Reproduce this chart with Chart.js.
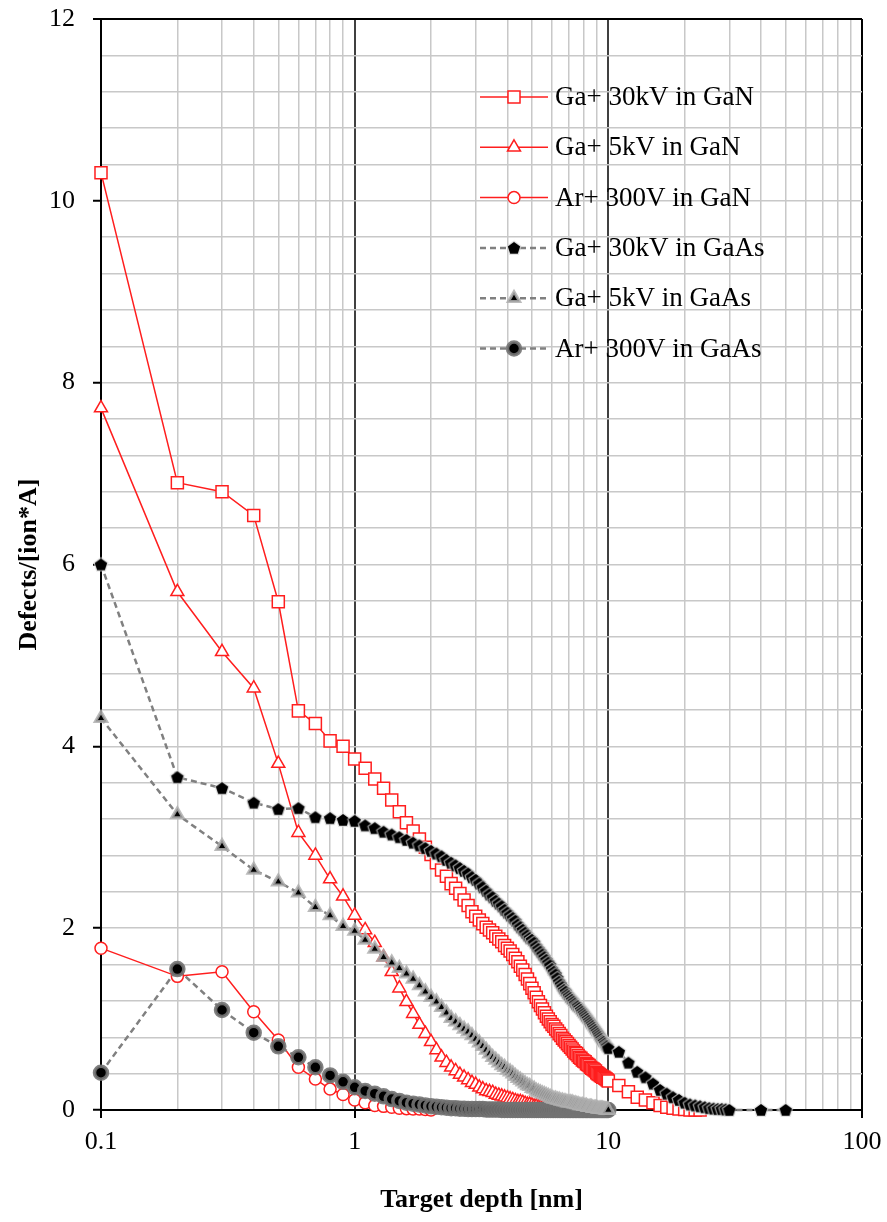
<!DOCTYPE html>
<html><head><meta charset="utf-8">
<script src="https://cdn.jsdelivr.net/npm/chart.js@4.4.1/dist/chart.umd.min.js"></script>
<style>html,body{margin:0;padding:0;background:#fff;}#wrap{width:887px;height:1222px;}</style>
</head><body><div id="wrap"><canvas id="c" width="887" height="1222"></canvas></div>
<script>
// ---- data ----
const depthFine = [0.1,0.2,0.3,0.4,0.5,0.6,0.7,0.8,0.9,1.0,
1.1,1.2,1.3,1.4,1.5,1.6,1.7,1.8,1.9,2.0,
2.1,2.2,2.3,2.4,2.5,2.6,2.7,2.8,2.9,3.0,
3.1,3.2,3.3,3.4,3.5,3.6,3.7,3.8,3.9,4.0,
4.1,4.2,4.3,4.4,4.5,4.6,4.7,4.8,4.9,5.0,
5.1,5.2,5.3,5.4,5.5,5.6,5.7,5.8,5.9,6.0,
6.1,6.2,6.3,6.4,6.5,6.6,6.7,6.8,6.9,7.0,
7.1,7.2,7.3,7.4,7.5,7.6,7.7,7.8,7.9,8.0,
8.1,8.2,8.3,8.4,8.5,8.6,8.7,8.8,8.9,9.0,
9.1,9.2,9.3,9.4,9.5,9.6,9.7,9.8,9.9,10.0];
const depthCoarse = [11,12,13,14,15,16,17,18,19,20,21,22,23,24,25,26,27,28,29,30,40,50];

const xTickValues = [0.1,0.2,0.3,0.4,0.5,0.6,0.7,0.8,0.9,1,2,3,4,5,6,7,8,9,10,20,30,40,50,60,70,80,90,100];
const xMajorValues = [0.1,1,10,100];
const xMajorLabels = ['0.1','1','10','100'];
const yLabelValues = [0,2,4,6,8,10,12];

const seriesNames = ['Ga+ 30kV in GaN','Ga+ 5kV in GaN','Ar+ 300V in GaN',
  'Ga+ 30kV in GaAs','Ga+ 5kV in GaAs','Ar+ 300V in GaAs'];

const ga30GaN = [10.31,6.90,6.80,6.54,5.59,4.39,4.25,4.06,4.00,3.86,
3.76,3.64,3.54,3.41,3.28,3.16,3.07,2.98,2.89,2.81,
2.72,2.64,2.57,2.49,2.44,2.38,2.31,2.25,2.18,2.13,
2.09,2.05,2.01,1.98,1.95,1.91,1.88,1.85,1.81,1.78,
1.75,1.71,1.67,1.63,1.58,1.54,1.49,1.44,1.39,1.34,
1.29,1.24,1.19,1.15,1.11,1.07,1.03,1.00,0.97,0.94,
0.92,0.89,0.87,0.84,0.82,0.79,0.77,0.75,0.73,0.71,
0.69,0.67,0.65,0.63,0.62,0.60,0.58,0.57,0.55,0.54,
0.53,0.51,0.50,0.49,0.47,0.46,0.45,0.44,0.43,0.41,
0.40,0.39,0.38,0.37,0.36,0.36,0.35,0.34,0.33,0.32,
0.27,0.20,0.14,0.11,0.08,0.05,0.03,0.02,0.01,0.005,0,0,0];

const ga5GaN = [7.72,5.70,5.04,4.64,3.81,3.05,2.80,2.54,2.35,2.14,
1.98,1.84,1.68,1.52,1.34,1.19,1.06,0.94,0.84,0.75,
0.66,0.58,0.52,0.47,0.43,0.39,0.36,0.33,0.30,0.28,
0.25,0.23,0.21,0.20,0.19,0.17,0.16,0.15,0.14,0.13,
0.12,0.11,0.10,0.09,0.09,0.08,0.07,0.06,0.06,0.05,
0.04,0.04,0.03,0.03,0.02,0.02,0.01,0.01,0.01,0];

const ar300GaN = [1.78,1.47,1.52,1.08,0.77,0.47,0.34,0.23,0.17,0.11,
0.08,0.05,0.04,0.03,0.02,0.015,0.01,0.01,0.005,0];

const ga30GaAs = [6.00,3.66,3.54,3.38,3.31,3.32,3.22,3.21,3.19,3.18,
3.13,3.10,3.06,3.03,3.00,2.97,2.94,2.91,2.88,2.85,
2.82,2.79,2.75,2.72,2.69,2.66,2.63,2.60,2.56,2.53,
2.49,2.45,2.41,2.37,2.34,2.30,2.27,2.24,2.20,2.17,
2.14,2.11,2.08,2.04,2.01,1.98,1.95,1.92,1.89,1.87,
1.84,1.80,1.77,1.74,1.71,1.68,1.65,1.62,1.59,1.55,
1.52,1.49,1.45,1.41,1.38,1.35,1.32,1.30,1.27,1.25,
1.23,1.21,1.19,1.17,1.15,1.14,1.12,1.10,1.08,1.06,
1.04,1.02,1.00,0.98,0.96,0.94,0.92,0.90,0.88,0.86,
0.84,0.82,0.80,0.78,0.76,0.75,0.73,0.71,0.70,0.68,
0.64,0.52,0.42,0.36,0.29,0.22,0.18,0.14,0.11,0.08,
0.06,0.05,0.04,0.03,0.02,0.015,0.01,0.01,0.005,0,0,0];

const ga5GaAs = [4.31,3.25,2.90,2.64,2.51,2.39,2.23,2.14,2.02,1.97,
1.87,1.77,1.68,1.62,1.56,1.50,1.44,1.37,1.30,1.24,
1.19,1.13,1.07,1.01,0.97,0.93,0.89,0.86,0.82,0.78,
0.74,0.70,0.66,0.62,0.58,0.55,0.52,0.49,0.47,0.44,
0.42,0.40,0.37,0.35,0.33,0.31,0.29,0.27,0.26,0.24,
0.23,0.21,0.20,0.19,0.18,0.17,0.16,0.15,0.14,0.13,
0.12,0.12,0.11,0.11,0.10,0.10,0.09,0.09,0.08,0.08,
0.08,0.08,0.07,0.07,0.06,0.06,0.05,0.05,0.05,0.04,
0.04,0.04,0.03,0.03,0.03,0.03,0.02,0.02,0.02,0.02,
0.01,0.01,0.01,0.01,0.01,0.005,0.005,0,0,0];

const ar300GaAs = [0.41,1.55,1.10,0.85,0.70,0.58,0.47,0.38,0.31,0.25,
0.21,0.18,0.15,0.12,0.10,0.08,0.07,0.06,0.05,0.04,
0.035,0.03,0.025,0.02,0.02,0.015,0.015,0.01,0.01,0.01,
0.01,0.01,0.005,0.005,0.005,0.005,0.005,0,0,0,
0,0,0,0,0,0,0,0,0,0,
0,0,0,0,0,0,0,0,0,0,
0,0,0,0,0,0,0,0,0,0,
0,0,0,0,0,0,0,0,0,0,
0,0,0,0,0,0,0,0,0,0,
0,0,0,0,0,0,0,0,0,0];

// ---- helpers ----
const allDepth = depthFine.concat(depthCoarse);
const pts = vals => vals.map((v, i) => ({x: allDepth[i], y: v}));

function makePentagon() {
  const c = document.createElement('canvas');
  c.width = 18; c.height = 18;
  const g = c.getContext('2d');
  g.beginPath();
  for (let k = 0; k < 5; k++) {
    const a = -Math.PI / 2 + k * 2 * Math.PI / 5;
    const px = 9 + 6.5 * Math.cos(a), py = 9.5 + 6.5 * Math.sin(a);
    if (k === 0) g.moveTo(px, py); else g.lineTo(px, py);
  }
  g.closePath();
  g.lineWidth = 2.5; g.strokeStyle = 'rgba(215,215,215,0.7)'; g.stroke();
  g.fillStyle = '#000'; g.fill();
  return c;
}
const pentagon = makePentagon();

const RED = 'rgb(255,30,30)';
const GREY = '#808080';
const FONT = '"Liberation Serif", "Times New Roman", serif';

function redSet(label, data, style, r) {
  return {label, data: pts(data), borderColor: RED, borderWidth: 1.5, backgroundColor: RED,
    pointStyle: style, pointRadius: r, pointBackgroundColor: '#fff', pointBorderColor: RED,
    pointBorderWidth: 1.5, order: 1, tension: 0, clip: false};
}
function greySet(label, data, style, r, halo, hw) {
  return {label, data: pts(data), borderColor: GREY, borderWidth: 2.5, borderDash: [6, 4],
    backgroundColor: '#000', pointStyle: style, pointRadius: r, pointBackgroundColor: '#000',
    pointBorderColor: halo, pointBorderWidth: hw, order: 0, tension: 0, clip: false};
}

const datasets = [
  redSet(seriesNames[0], ga30GaN, 'rect', 8.5),
  redSet(seriesNames[1], ga5GaN, 'triangle', 7.5),
  redSet(seriesNames[2], ar300GaN, 'circle', 6),
  greySet(seriesNames[3], ga30GaAs, pentagon, 7, 'rgba(215,215,215,0.7)', 2),
  greySet(seriesNames[4], ga5GaAs, 'triangle', 6.5, 'rgba(175,175,175,0.85)', 3),
  greySet(seriesNames[5], ar300GaAs, 'circle', 6.5, 'rgba(115,115,115,0.9)', 3.5)
];

function drawMarker(ctx, ds, x, y) {
  const st = ds.pointStyle;
  if (st instanceof HTMLCanvasElement) { ctx.drawImage(st, x - st.width / 2, y - st.height / 2); return; }
  const r = ds.pointRadius;
  ctx.beginPath();
  if (st === 'rect') {
    const s = r * Math.SQRT1_2; ctx.rect(x - s, y - s, 2 * s, 2 * s);
  } else if (st === 'triangle') {
    let a = 0;
    for (let k = 0; k < 3; k++) {
      const px = x + Math.sin(a) * r, py = y - Math.cos(a) * r;
      if (k === 0) ctx.moveTo(px, py); else ctx.lineTo(px, py);
      a += 2 * Math.PI / 3;
    }
    ctx.closePath();
  } else {
    ctx.arc(x, y, r, 0, Math.PI * 2);
  }
  ctx.fillStyle = ds.pointBackgroundColor; ctx.fill();
  ctx.lineWidth = ds.pointBorderWidth; ctx.strokeStyle = ds.pointBorderColor; ctx.stroke();
}

const legendPlugin = {
  id: 'manualLegend',
  afterDraw(chart) {
    const ctx = chart.ctx;
    ctx.save();
    chart.data.datasets.forEach((ds, i) => {
      const y = 97 + i * 50.3;
      ctx.beginPath();
      ctx.setLineDash(ds.borderDash || []);
      ctx.strokeStyle = ds.borderColor; ctx.lineWidth = ds.borderWidth;
      ctx.moveTo(480, y); ctx.lineTo(548, y); ctx.stroke();
      ctx.setLineDash([]);
      drawMarker(ctx, ds, 514, y);
      ctx.fillStyle = '#000';
      ctx.font = '27px ' + FONT;
      ctx.textBaseline = 'middle'; ctx.textAlign = 'left';
      ctx.fillText(ds.label, 555, y + 1);
    });
    ctx.restore();
  }
};

const near = (a, b) => Math.abs(a - b) < 1e-9;
const isXMajor = v => xMajorValues.some(m => near(v, m));
const isYMajor = v => yLabelValues.some(m => Math.abs(v - m) < 1e-6);

new Chart(document.getElementById('c'), {
  type: 'line',
  data: {datasets},
  plugins: [legendPlugin],
  options: {
    responsive: false,
    animation: false,
    devicePixelRatio: 1,
    layout: {padding: {top: 19, right: 25, left: 0, bottom: 0}},
    plugins: {legend: {display: false}, tooltip: {enabled: false}},
    elements: {line: {tension: 0}},
    scales: {
      x: {
        type: 'logarithmic', min: 0.1, max: 100,
        afterBuildTicks: s => { s.ticks = xTickValues.map(v => ({value: v})); },
        afterFit: s => { s.height = 112; s.paddingLeft = 0; s.paddingRight = 0; },
        ticks: {
          autoSkip: false, maxRotation: 0, minRotation: 0, padding: 9, color: '#000',
          font: {family: FONT, size: 26},
          callback: v => {
            const i = xMajorValues.findIndex(q => near(v, q));
            return i >= 0 ? xMajorLabels[i] : '';
          }
        },
        grid: {
          color: c => {
            const v = c.tick ? c.tick.value : 0;
            if (near(v, 0.1) || near(v, 100)) return '#000';
            if (near(v, 1) || near(v, 10)) return '#404040';
            return '#c8c8c8';
          },
          lineWidth: c => (c.tick && isXMajor(c.tick.value)) ? 2 : 1.5,
          tickColor: c => (c.tick && isXMajor(c.tick.value)) ? '#000' : 'rgba(0,0,0,0)',
          tickLength: 8, tickWidth: 2, drawTicks: true
        },
        border: {display: true, color: '#000', width: 2},
        title: {display: true, text: 'Target depth [nm]', color: '#000',
          font: {family: FONT, size: 26, weight: 'bold'}, padding: {top: 0, bottom: 6}}
      },
      y: {
        type: 'linear', min: 0, max: 12,
        afterFit: s => { s.width = 101; s.paddingTop = 0; s.paddingBottom = 0; },
        ticks: {
          stepSize: 0.4, autoSkip: false, padding: 18, color: '#000',
          font: {family: FONT, size: 26},
          callback: v => isYMajor(v) ? String(Math.round(v)) : ''
        },
        grid: {
          color: c => (c.tick && Math.abs(c.tick.value - 12) < 1e-6) ? '#000' : '#c8c8c8',
          lineWidth: c => (c.tick && Math.abs(c.tick.value - 12) < 1e-6) ? 2 : 1.5,
          tickColor: c => (c.tick && isYMajor(c.tick.value)) ? '#000' : 'rgba(0,0,0,0)',
          tickLength: 8, tickWidth: 2, drawTicks: true
        },
        border: {display: true, color: '#000', width: 2},
        title: {display: true, text: 'Defects/[ion*A]', color: '#000',
          font: {family: FONT, size: 26, weight: 'bold'}, padding: {top: 14, bottom: 0}}
      }
    }
  }
});
</script>
</body></html>
